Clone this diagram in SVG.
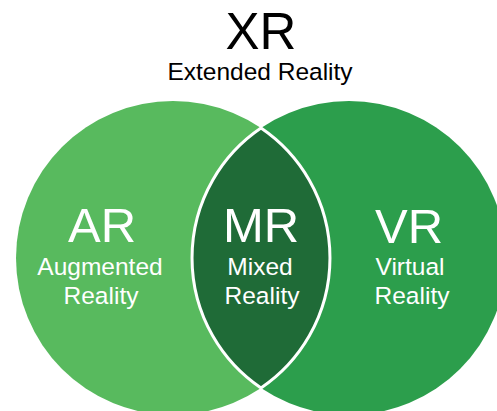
<svg xmlns="http://www.w3.org/2000/svg" width="497" height="411" viewBox="0 0 497 411">
  <style>
    text { font-family: "Liberation Sans", Arial, sans-serif; text-anchor: middle; }
    .big { font-size: 49px; fill: #ffffff; }
    .sub { font-size: 24.5px; fill: #ffffff; }
    .title { font-size: 51px; fill: #000000; }
    .subtitle { font-size: 24.5px; fill: #000000; }
  </style>
  <rect width="497" height="411" fill="#ffffff"/>
  <g id="title">
    <text class="title" x="261" y="49">XR</text>
    <text class="subtitle" x="260" y="80">Extended Reality</text>
  </g>
  <g id="ar">
    <circle cx="173" cy="258" r="157" fill="#58BA5E"/>
  </g>
  <g id="vr">
    <circle cx="349" cy="258" r="157" fill="#2C9E4C"/>
  </g>
  <g id="mr">
    <path d="M261,128 A157,157 0 0 1 261,388 A157,157 0 0 1 261,128 Z" fill="#1F6B37" stroke="#ffffff" stroke-width="3"/>
  </g>
  <g id="ar-label">
    <text class="big" x="102" y="242">AR</text>
    <text class="sub" x="100" y="275">Augmented</text>
    <text class="sub" x="101" y="304">Reality</text>
  </g>
  <g id="mr-label">
    <text class="big" x="261" y="242">MR</text>
    <text class="sub" x="260" y="275">Mixed</text>
    <text class="sub" x="262" y="304">Reality</text>
  </g>
  <g id="vr-label">
    <text class="big" x="409" y="243">VR</text>
    <text class="sub" x="410" y="275">Virtual</text>
    <text class="sub" x="412" y="304">Reality</text>
  </g>
  <g id="connectors"/>
</svg>
